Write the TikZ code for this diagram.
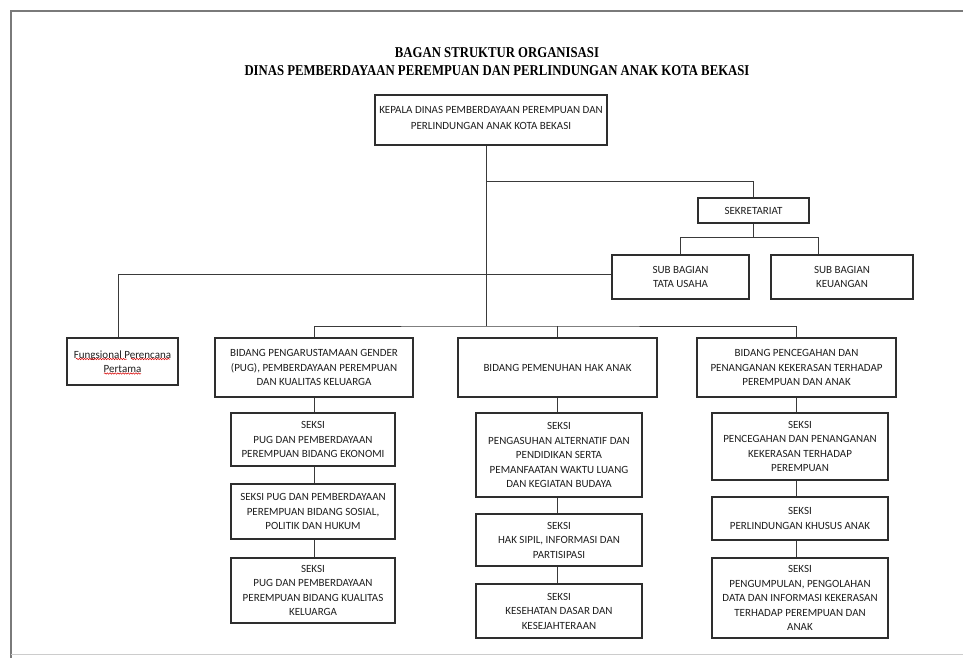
\documentclass[tikz,border=0pt]{standalone}
\usepackage{fontspec}
\setmainfont{Carlito}
\newfontfamily\titlefont[FakeStretch=0.85]{Liberation Serif}
\usetikzlibrary{decorations.pathmorphing}
\definecolor{boxline}{HTML}{2E2E2E}
\definecolor{conn}{HTML}{3A3A3A}
\definecolor{txt}{HTML}{1E1E1E}
\definecolor{framec}{HTML}{7A7A7A}
\tikzset{
  box/.style={draw=boxline, line width=1.05pt, inner sep=0pt, align=center,
    text=txt, font=\fontsize{11}{14.5}\selectfont},
  link/.style={draw=conn, line width=1pt},
  spell/.style={draw=red!85!black, line width=0.5pt,
    decorate, decoration={snake, amplitude=0.7pt, segment length=2.6pt}}
}
\begin{document}
\begin{tikzpicture}[x=1pt, y=-1pt]
\useasboundingbox (0,0) rectangle (963,658);
% frame
\draw[framec, line width=1.3pt] (963,11) -- (11,11) -- (11,658);
\draw[black!20, line width=1pt] (11,654) -- (963,654);
% title
\node[font=\titlefont\bfseries\fontsize{15}{18}\selectfont, align=center, text=black]
  (title) at (497,62) {BAGAN STRUKTUR ORGANISASI\\DINAS PEMBERDAYAAN PEREMPUAN DAN PERLINDUNGAN ANAK KOTA BEKASI};
% boxes
\node[box, minimum width=232, minimum height=50, font=\fontsize{11}{16}\selectfont] (kepala) at (491,120)
  {KEPALA DINAS PEMBERDAYAAN PEREMPUAN DAN\\PERLINDUNGAN ANAK KOTA BEKASI\\[-12pt]\mbox{}};
\node[box, minimum width=111, minimum height=25] (sek) at (753.5,210.5) {SEKRETARIAT};
\node[box, minimum width=137, minimum height=44] (tu) at (680.5,277) {SUB BAGIAN\\TATA USAHA};
\node[box, minimum width=142, minimum height=44] (keu) at (842,277) {SUB BAGIAN\\KEUANGAN};
\node[box, minimum width=111, minimum height=47] (fung) at (122.5,361.5) {Fungsional Perencana\\Pertama};
\node[box, minimum width=198, minimum height=59] (b1) at (314,367.5)
  {BIDANG PENGARUSTAMAAN GENDER\\(PUG), PEMBERDAYAAN PEREMPUAN\\DAN KUALITAS KELUARGA};
\node[box, minimum width=199, minimum height=59] (b2) at (557.5,367.5) {BIDANG PEMENUHAN HAK ANAK};
\node[box, minimum width=199, minimum height=59] (b3) at (796.5,367.5)
  {BIDANG PENCEGAHAN DAN\\PENANGANAN KEKERASAN TERHADAP\\PEREMPUAN DAN ANAK};
% column 1
\node[box, minimum width=164, minimum height=53] (s11) at (313,439.5)
  {SEKSI\\PUG DAN PEMBERDAYAAN\\PEREMPUAN BIDANG EKONOMI};
\node[box, minimum width=164, minimum height=55] (s12) at (313,511.5)
  {SEKSI PUG DAN PEMBERDAYAAN\\PEREMPUAN BIDANG SOSIAL,\\POLITIK DAN HUKUM};
\node[box, minimum width=164, minimum height=65] (s13) at (313,590.5)
  {SEKSI\\PUG DAN PEMBERDAYAAN\\PEREMPUAN BIDANG KUALITAS\\KELUARGA};
% column 2
\node[box, minimum width=166, minimum height=84] (s21) at (559,455)
  {SEKSI\\PENGASUHAN ALTERNATIF DAN\\PENDIDIKAN SERTA\\PEMANFAATAN WAKTU LUANG\\DAN KEGIATAN BUDAYA};
\node[box, minimum width=166, minimum height=52] (s22) at (559,540)
  {SEKSI\\HAK SIPIL, INFORMASI DAN\\PARTISIPASI};
\node[box, minimum width=166, minimum height=54] (s23) at (559,611)
  {SEKSI\\KESEHATAN DASAR DAN\\KESEJAHTERAAN};
% column 3
\node[box, minimum width=176, minimum height=67] (s31) at (800,446.5)
  {SEKSI\\PENCEGAHAN DAN PENANGANAN\\KEKERASAN TERHADAP\\PEREMPUAN};
\node[box, minimum width=176, minimum height=43] (s32) at (800,518.5)
  {SEKSI\\PERLINDUNGAN KHUSUS ANAK};
\node[box, minimum width=176, minimum height=80] (s33) at (800,598)
  {SEKSI\\PENGUMPULAN, PENGOLAHAN\\DATA DAN INFORMASI KEKERASAN\\TERHADAP PEREMPUAN DAN\\ANAK};
% junctions
\coordinate (jk) at (486,181);
\coordinate (jb) at (486,326);
\coordinate (js) at (753.5,237);
\coordinate (jk2) at (818,237);
\coordinate (jf) at (118,274);
% connectors
\draw[link] (kepala.south -| jk) -- (jb);
\draw[link] (jk) -| (sek.north);
\draw[link] (sek.south) -- (js);
\draw[link] (tu.north) |- (jk2) -- (jk2 |- keu.north);
\draw[link] (jf |- fung.north) -- (jf) -- (jf -| tu.west);
\draw[link] (b1.north) |- (jb) -| (b3.north);
\draw[link] (jb -| b2.north) -- (b2.north);
\draw[link] (b1.south) -- (b1.south |- s11.north);
\draw[link] (b1.south |- s11.south) -- (b1.south |- s12.north);
\draw[link] (b1.south |- s12.south) -- (b1.south |- s13.north);
\draw[link] (b2.south) -- (b2.south |- s21.north);
\draw[link] (b2.south |- s21.south) -- (b2.south |- s22.north);
\draw[link] (b2.south |- s22.south) -- (b2.south |- s23.north);
\draw[link] (b3.south) -- (b3.south |- s31.north);
\draw[link] (b3.south |- s31.south) -- (b3.south |- s32.north);
\draw[link] (b3.south |- s32.south) -- (b3.south |- s33.north);
% spell-check underlines
\draw[spell] (76,359) -- (127,359);
\draw[spell] (131,359) -- (170,359);
\draw[spell] (104,373.5) -- (141,373.5);
\end{tikzpicture}
\end{document}
